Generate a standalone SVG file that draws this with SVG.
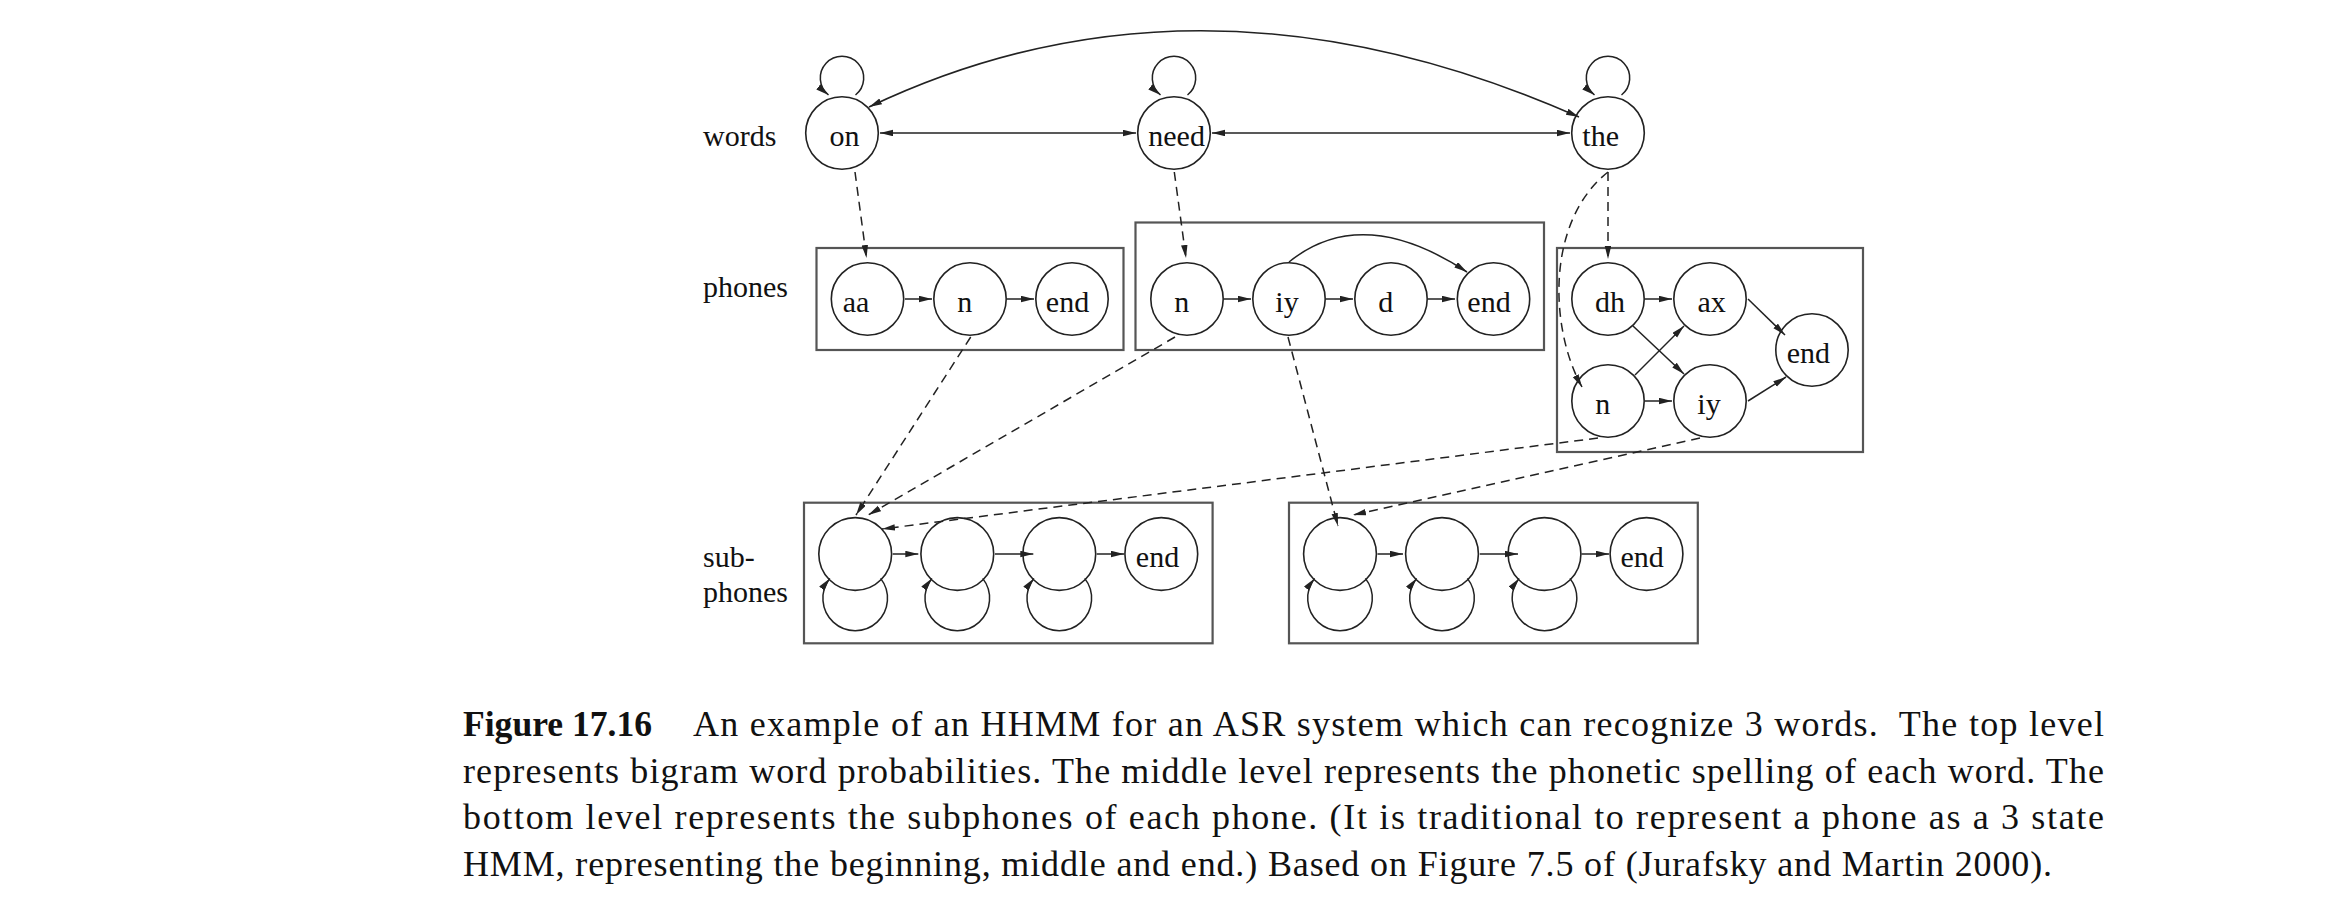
<svg xmlns="http://www.w3.org/2000/svg" width="2338" height="914" viewBox="0 0 2338 914">
<style>
.n circle{fill:none;stroke:#222;stroke-width:1.6}
.box{fill:none;stroke:#555;stroke-width:2.2}
.e{fill:none;stroke:#222;stroke-width:1.5}
.d{stroke-dasharray:9 6}
text{font-family:"Liberation Serif","Times New Roman",serif;fill:#111}
.t{font-size:30px;text-anchor:middle}
.l{font-size:30px}
.cap{font-size:36px}
</style>
<defs>
<marker id="ah" markerUnits="userSpaceOnUse" markerWidth="14" markerHeight="8" refX="13" refY="3.25" orient="auto-start-reverse">
<path d="M0,0 L13,3.25 L0,6.5 z" fill="#222"/>
</marker>
</defs>
<rect width="2338" height="914" fill="#fff"/>

<g id="labels">
<text class="l" x="703" y="146">words</text>
<text class="l" x="703" y="297">phones</text>
<text class="l" x="703" y="567">sub-</text>
<text class="l" x="703" y="602">phones</text>
</g>

<g id="box-on-phones"><rect class="box" x="816.5" y="248" width="307" height="102"/></g>
<g id="box-need-phones"><rect class="box" x="1135.5" y="222.5" width="408.5" height="127.5"/></g>
<g id="box-the-phones"><rect class="box" x="1557" y="248" width="306" height="204"/></g>
<g id="box-sub-a"><rect class="box" x="804" y="502.7" width="408.6" height="140.6"/></g>
<g id="box-sub-b"><rect class="box" x="1289" y="502.7" width="408.8" height="140.6"/></g>

<g id="w-on" class="n"><circle cx="842" cy="133" r="36.3"/><text class="t" x="844.5" y="146">on</text></g>
<g id="w-need" class="n"><circle cx="1174" cy="133" r="36.3"/><text class="t" x="1176.6" y="146">need</text></g>
<g id="w-the" class="n"><circle cx="1608" cy="133" r="36.3"/><text class="t" x="1600.7" y="146">the</text></g>

<g id="p-on-aa" class="n"><circle cx="867.5" cy="299" r="36.2"/><text class="t" x="856" y="311.7">aa</text></g>
<g id="p-on-n" class="n"><circle cx="970" cy="299" r="36.2"/><text class="t" x="964.8" y="311.7">n</text></g>
<g id="p-on-end" class="n"><circle cx="1072" cy="299" r="36.2"/><text class="t" x="1067.5" y="311.7">end</text></g>

<g id="p-need-n" class="n"><circle cx="1187" cy="299" r="36.2"/><text class="t" x="1181.7" y="311.7">n</text></g>
<g id="p-need-iy" class="n"><circle cx="1289" cy="299" r="36.2"/><text class="t" x="1287" y="311.7">iy</text></g>
<g id="p-need-d" class="n"><circle cx="1391" cy="299" r="36.2"/><text class="t" x="1385.7" y="311.7">d</text></g>
<g id="p-need-end" class="n"><circle cx="1493.5" cy="299" r="36.2"/><text class="t" x="1489" y="311.7">end</text></g>

<g id="p-the-dh" class="n"><circle cx="1608" cy="299" r="36.2"/><text class="t" x="1610" y="311.7">dh</text></g>
<g id="p-the-ax" class="n"><circle cx="1710" cy="299" r="36.2"/><text class="t" x="1711.7" y="311.7">ax</text></g>
<g id="p-the-end" class="n"><circle cx="1812" cy="350" r="36.2"/><text class="t" x="1808.3" y="362.7">end</text></g>
<g id="p-the-n" class="n"><circle cx="1608" cy="401" r="36.2"/><text class="t" x="1602.7" y="413.7">n</text></g>
<g id="p-the-iy" class="n"><circle cx="1710" cy="401" r="36.2"/><text class="t" x="1709" y="413.7">iy</text></g>

<g id="s-a1" class="n"><circle cx="855.2" cy="554" r="36.4"/></g>
<g id="s-a2" class="n"><circle cx="957.3" cy="554" r="36.4"/></g>
<g id="s-a3" class="n"><circle cx="1059.3" cy="554" r="36.4"/></g>
<g id="s-aend" class="n"><circle cx="1161.3" cy="554" r="36.4"/><text class="t" x="1157.5" y="566.7">end</text></g>
<g id="s-b1" class="n"><circle cx="1340" cy="554" r="36.4"/></g>
<g id="s-b2" class="n"><circle cx="1442" cy="554" r="36.4"/></g>
<g id="s-b3" class="n"><circle cx="1544.5" cy="554" r="36.4"/></g>
<g id="s-bend" class="n"><circle cx="1646.5" cy="554" r="36.4"/><text class="t" x="1642.2" y="566.7">end</text></g>

<g id="connectors">
<path class="e" d="M855.5,95 A21.7,21.7 0 1 0 828.5,95" marker-end="url(#ah)"/>
<path class="e" d="M1187.5,95 A21.7,21.7 0 1 0 1160.5,95" marker-end="url(#ah)"/>
<path class="e" d="M1621.5,95 A21.7,21.7 0 1 0 1594.5,95" marker-end="url(#ah)"/>
<path class="e" d="M880,133 L1136,133" marker-start="url(#ah)" marker-end="url(#ah)"/>
<path class="e" d="M1212,133 L1570,133" marker-start="url(#ah)" marker-end="url(#ah)"/>
<path class="e" d="M869,107 Q1199.5,-50.5 1579,117" marker-start="url(#ah)" marker-end="url(#ah)"/>
<path class="e d" d="M855,172 L866.5,258" marker-end="url(#ah)"/>
<path class="e d" d="M1174.3,172 L1186,258" marker-end="url(#ah)"/>
<path class="e d" d="M1608,172 L1608,259" marker-end="url(#ah)"/>
<path class="e d" d="M1608,172 C1545,222 1550,330 1582,387" marker-end="url(#ah)"/>
<path class="e" d="M905,299 L932,299" marker-end="url(#ah)"/>
<path class="e" d="M1007,299 L1034,299" marker-end="url(#ah)"/>
<path class="e" d="M1224,299 L1251,299" marker-end="url(#ah)"/>
<path class="e" d="M1326,299 L1353,299" marker-end="url(#ah)"/>
<path class="e" d="M1428,299 L1455,299" marker-end="url(#ah)"/>
<path class="e" d="M1289,262 Q1362,203 1467,272" marker-end="url(#ah)"/>
<path class="e" d="M1645,299 L1672,299" marker-end="url(#ah)"/>
<path class="e" d="M1645,401 L1672,401" marker-end="url(#ah)"/>
<path class="e" d="M1633,326 L1684,374" marker-end="url(#ah)"/>
<path class="e" d="M1635,375 L1684,326" marker-end="url(#ah)"/>
<path class="e" d="M1748,299 L1785,335" marker-end="url(#ah)"/>
<path class="e" d="M1748,401 L1786,377" marker-end="url(#ah)"/>
<path class="e d" d="M970.7,337 L856,515" marker-end="url(#ah)"/>
<path class="e d" d="M1175,337 L868.3,515" marker-end="url(#ah)"/>
<path class="e d" d="M1598,438 L882,529" marker-end="url(#ah)"/>
<path class="e d" d="M1288,337 L1338,526" marker-end="url(#ah)"/>
<path class="e d" d="M1700,438 L1353,515" marker-end="url(#ah)"/>
<path class="e" d="M892.7,554 L918.3,554" marker-end="url(#ah)"/>
<path class="e" d="M995,554 L1033.3,554" marker-end="url(#ah)"/>
<path class="e" d="M1096.7,554 L1124,554" marker-end="url(#ah)"/>
<path class="e" d="M1377.5,554 L1403,554" marker-end="url(#ah)"/>
<path class="e" d="M1479.8,554 L1518,554" marker-end="url(#ah)"/>
<path class="e" d="M1581.5,554 L1609,554" marker-end="url(#ah)"/>
<path class="e" d="M880.6,578.4 A32.3,32.3 0 1 1 829.8,578.4" marker-end="url(#ah)"/>
<path class="e" d="M982.7,578.4 A32.3,32.3 0 1 1 931.9,578.4" marker-end="url(#ah)"/>
<path class="e" d="M1084.7,578.4 A32.3,32.3 0 1 1 1033.9,578.4" marker-end="url(#ah)"/>
<path class="e" d="M1365.4,578.4 A32.3,32.3 0 1 1 1314.6,578.4" marker-end="url(#ah)"/>
<path class="e" d="M1467.4,578.4 A32.3,32.3 0 1 1 1416.6,578.4" marker-end="url(#ah)"/>
<path class="e" d="M1569.9,578.4 A32.3,32.3 0 1 1 1519.1,578.4" marker-end="url(#ah)"/>
</g>

<g id="caption">
<text class="cap" x="463" y="736" font-weight="bold" textLength="189" lengthAdjust="spacingAndGlyphs">Figure 17.16</text>
<text class="cap" x="693" y="736" textLength="1411" lengthAdjust="spacing" xml:space="preserve">An example of an HHMM for an ASR system which can recognize 3 words.  The top level</text>
<text class="cap" x="463" y="783" textLength="1641" lengthAdjust="spacing">represents bigram word probabilities. The middle level represents the phonetic spelling of each word. The</text>
<text class="cap" x="463" y="829" textLength="1641" lengthAdjust="spacing">bottom level represents the subphones of each phone. (It is traditional to represent a phone as a 3 state</text>
<text class="cap" x="463" y="876" textLength="1589" lengthAdjust="spacing">HMM, representing the beginning, middle and end.) Based on Figure 7.5 of (Jurafsky and Martin 2000).</text>
</g>
</svg>
